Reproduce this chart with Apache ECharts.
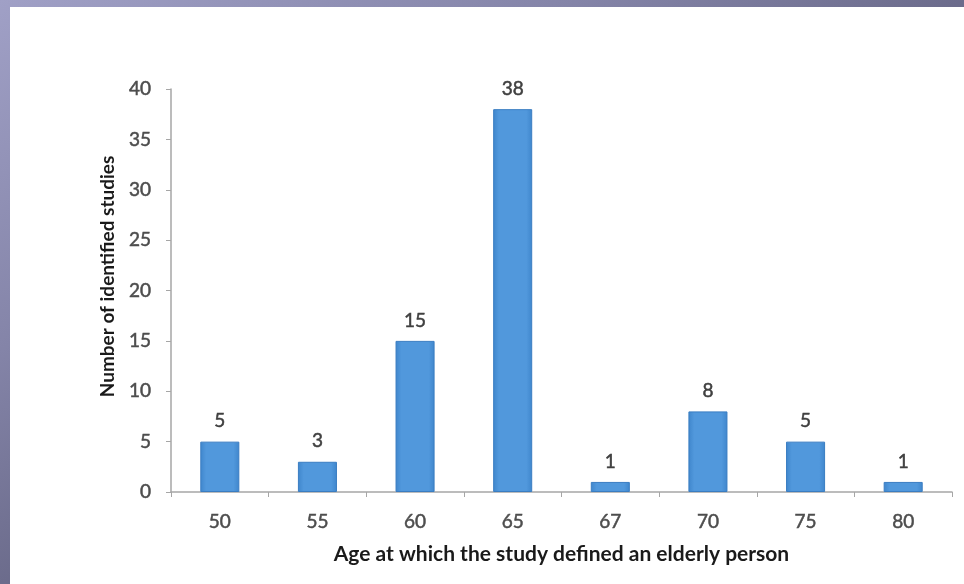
<!DOCTYPE html>
<html>
<head>
<meta charset="utf-8">
<script src="https://cdn.jsdelivr.net/npm/echarts@6/dist/echarts.min.js"></script>
<style>
  html, body { margin: 0; padding: 0; width: 964px; height: 584px; overflow: hidden; }
  body { background: linear-gradient(to bottom right, #a0a0c6 0%, #8484a8 30%, #6c6c8c 50%, #5e5e78 100%); position: relative; }
  #chart { position: absolute; left: 10px; top: 7px; width: 954px; height: 577px; background: #ffffff; }
</style>
</head>
<body>
<div id="chart"></div>
<script>
// Age thresholds used to define an elderly person, and how many studies used each
const ageCategories = ['50', '55', '60', '65', '67', '70', '75', '80'];
const studyCounts = [5, 3, 15, 38, 1, 8, 5, 1];
const yTicks = { min: 0, max: 40, interval: 5 };

const FONT = 'Lato, "Open Sans", sans-serif';

// slightly heavier strokes for the numeric labels
const numberText = {
  fontFamily: FONT,
  fontSize: 19,
  color: '#4d4d4d',
  textBorderColor: '#4d4d4d',
  textBorderWidth: 0.5
};

const chart = echarts.init(document.getElementById('chart'), null, { renderer: 'canvas' });

const barFill = new echarts.graphic.LinearGradient(0, 0, 1, 0, [
  { offset: 0, color: '#3f86cc' },
  { offset: 0.15, color: '#5198dc' },
  { offset: 0.85, color: '#5198dc' },
  { offset: 1, color: '#3f86cc' }
]);

chart.setOption({
  animation: false,
  backgroundColor: '#ffffff',
  grid: { left: 161, right: 12, top: 82, bottom: 92, containLabel: false },
  xAxis: {
    type: 'category',
    data: ageCategories,
    name: 'Age at which the study defined an elderly person',
    nameLocation: 'middle',
    nameGap: 52,
    nameTextStyle: { fontFamily: FONT, fontSize: 21, fontWeight: 'bold', color: '#1a1a1a' },
    axisLine: { lineStyle: { color: '#a6a6a6', width: 1.5 } },
    axisTick: { show: true, length: 5, alignWithLabel: false, lineStyle: { color: '#a6a6a6' } },
    axisLabel: Object.assign({ margin: 20 }, numberText)
  },
  yAxis: {
    type: 'value',
    min: yTicks.min,
    max: yTicks.max,
    interval: yTicks.interval,
    name: 'Number of identified studies',
    nameLocation: 'middle',
    nameGap: 52,
    nameTextStyle: { fontFamily: FONT, fontSize: 19, fontWeight: 'bold', color: '#1a1a1a', padding: [0, 0, 0, 28] },
    axisLine: { show: true, lineStyle: { color: '#a6a6a6', width: 1.5 } },
    axisTick: { show: true, length: 5, lineStyle: { color: '#a6a6a6' } },
    splitLine: { show: false },
    axisLabel: Object.assign({ margin: 20 }, numberText)
  },
  series: [{
    type: 'bar',
    data: studyCounts,
    barCategoryGap: '60%',
    itemStyle: { color: barFill, borderColor: '#3a7dc2', borderWidth: 1 },
    label: Object.assign({ show: true, position: 'top', distance: 11 }, numberText, {
      color: '#404040',
      textBorderColor: '#404040'
    })
  }]
});
</script>
</body>
</html>
